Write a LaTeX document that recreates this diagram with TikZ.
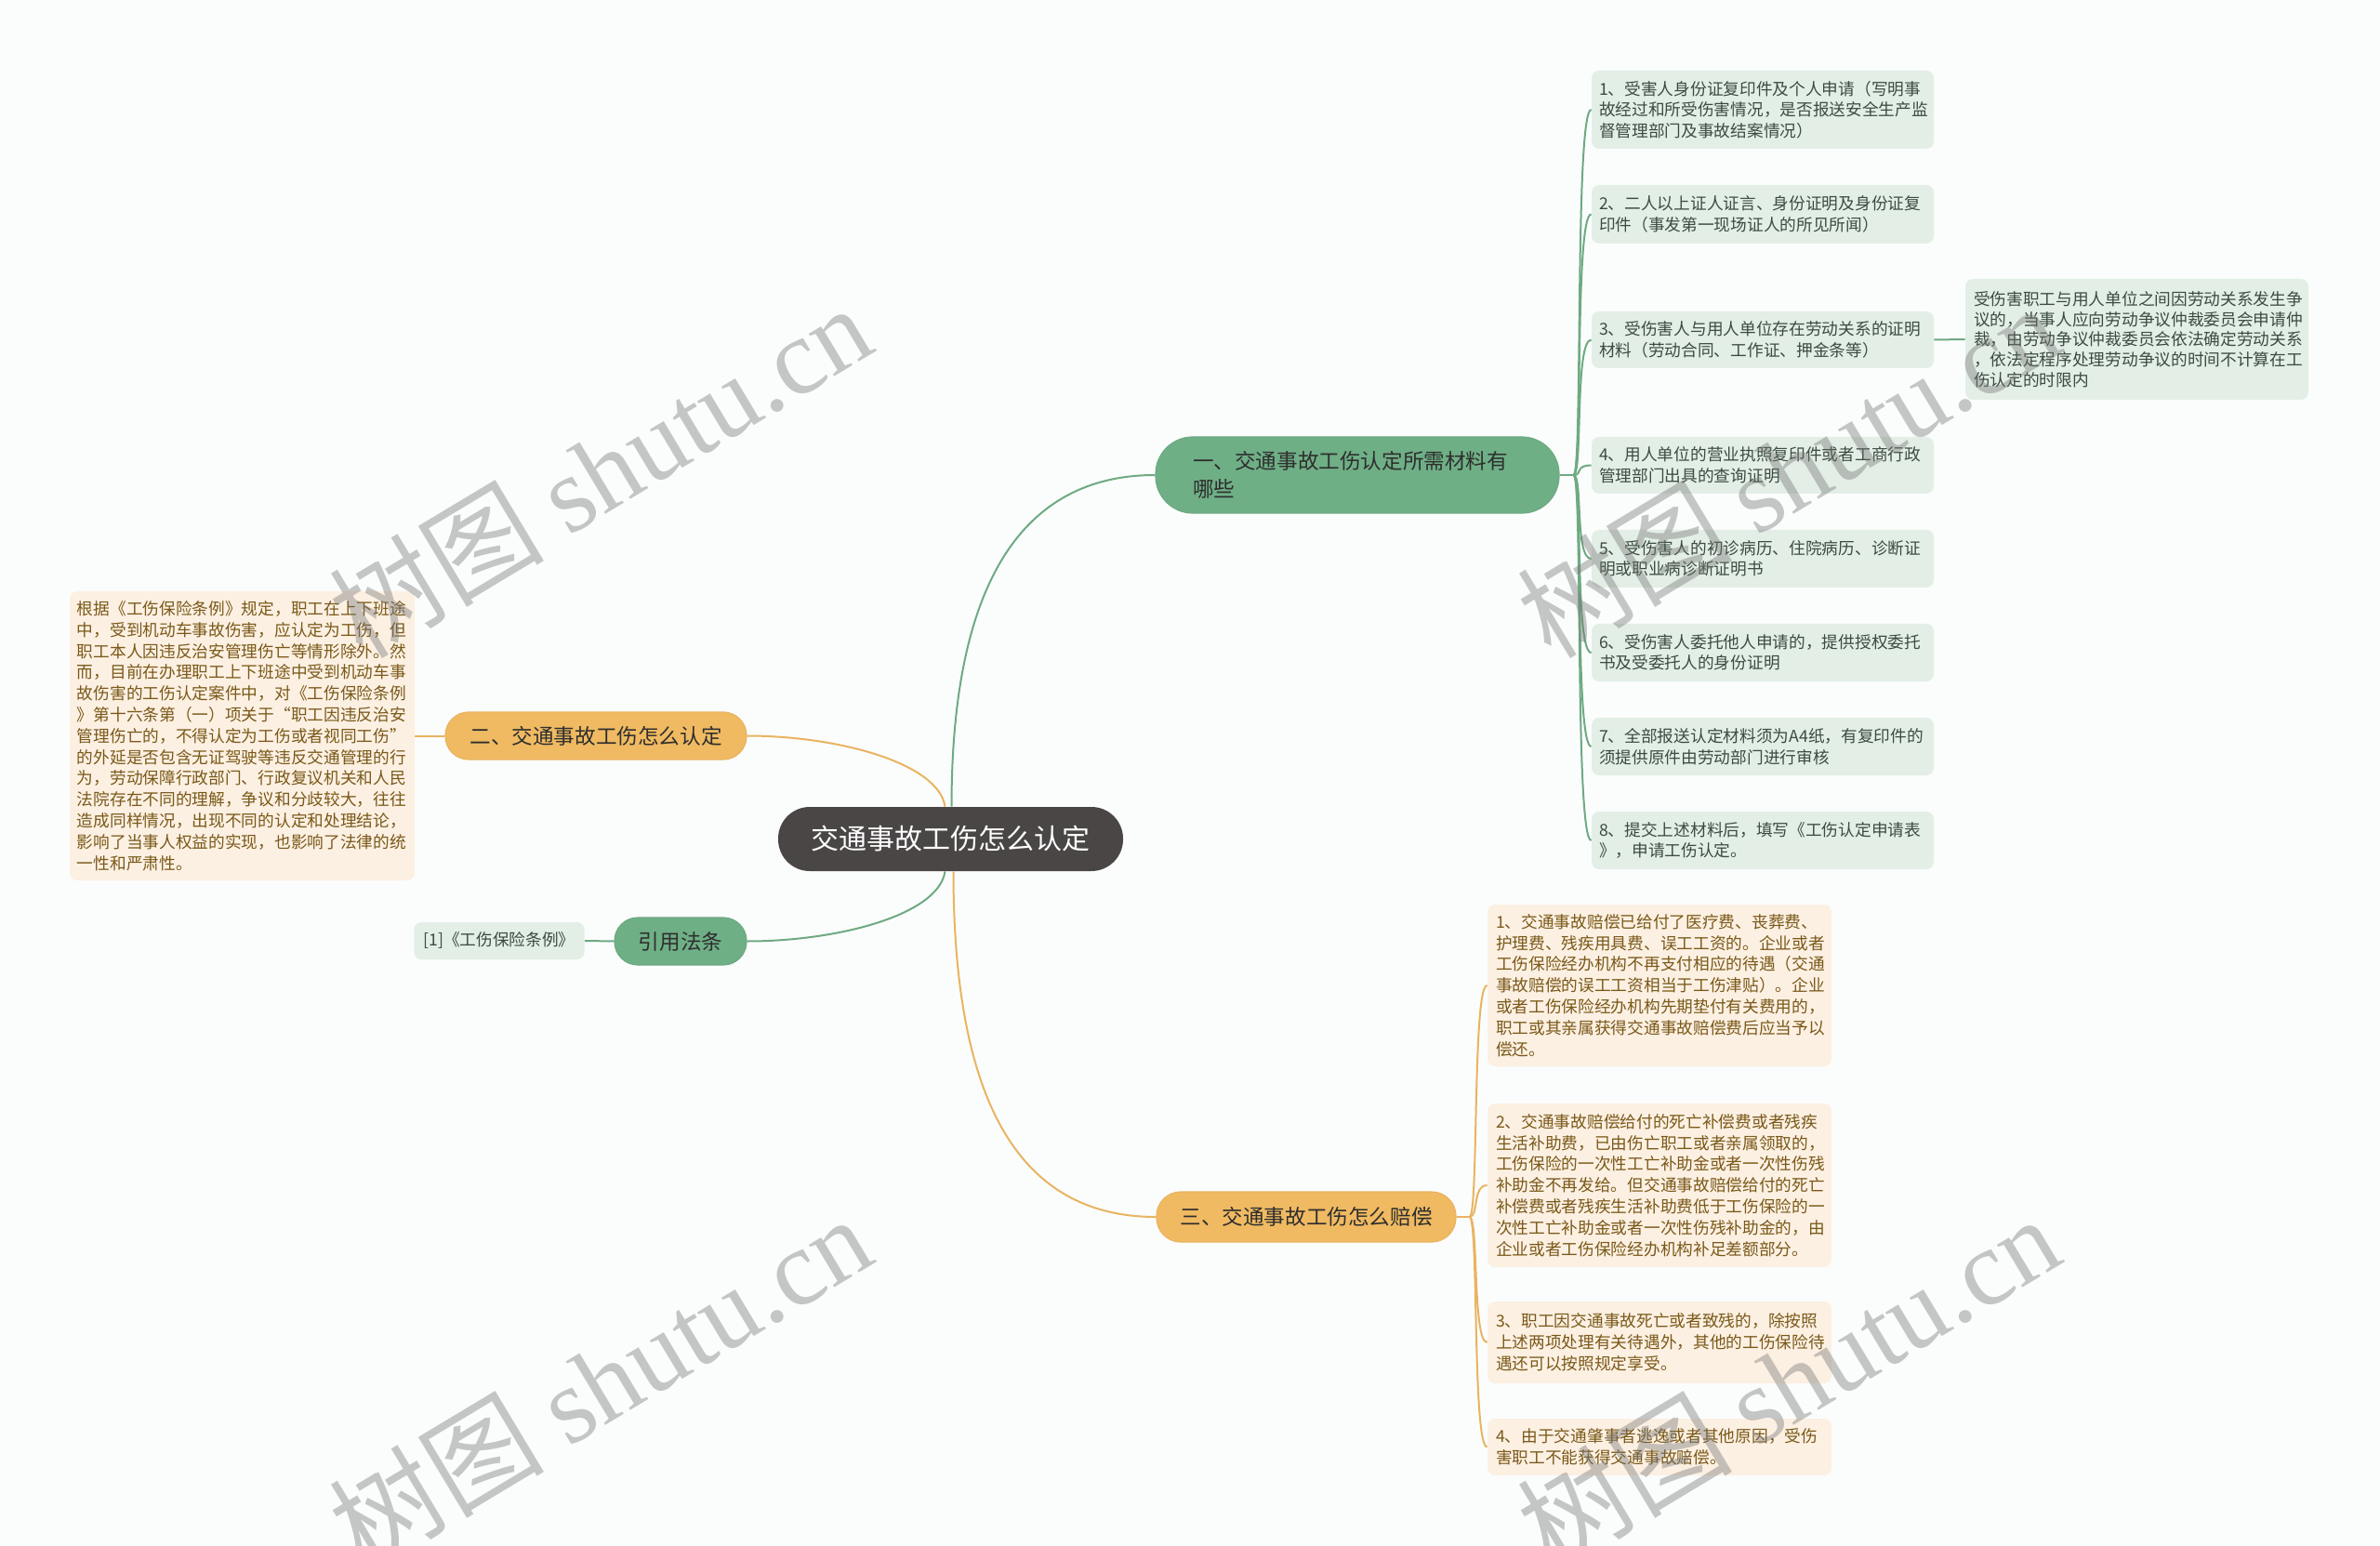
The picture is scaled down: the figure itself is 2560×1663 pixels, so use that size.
\documentclass[tikz,border=0pt]{standalone}
\usepackage{fontspec}
\setmainfont{Noto Sans CJK SC}
\newfontfamily\wmserif{Liberation Serif}
\definecolor{bg}{HTML}{FBFDFC}
\definecolor{rootfill}{HTML}{4A4646}
\definecolor{gfill}{HTML}{6FAF86}
\definecolor{gline}{HTML}{6EAA82}
\definecolor{gleaf}{HTML}{E3EFE6}
\definecolor{gtext}{HTML}{3C4B40}
\definecolor{ofill}{HTML}{F0BA62}
\definecolor{oline}{HTML}{E9B461}
\definecolor{oleaf}{HTML}{FCF0E3}
\definecolor{otext}{HTML}{7A5918}
\definecolor{dtext}{HTML}{2E2E2E}
\tikzset{
  leafbase/.style={inner ysep=0pt, rounded corners=4pt, align=left, anchor=center},
  gleafbox/.style={leafbase, fill=gleaf, text=gtext, inner xsep=4pt, text width=176pt,
    font=\fontsize{8.85}{11.25}\selectfont},
  oleafbox/.style={leafbase, fill=oleaf, text=otext, inner xsep=4.5pt, text width=176pt,
    font=\fontsize{8.85}{11.4}\selectfont},
  branchbox/.style={inner ysep=0pt, anchor=center, text=dtext, font=\fontsize{11.3}{15}\selectfont},
  gbranch/.style={branchbox, fill=gfill, draw=gline, line width=0.6pt},
  obranch/.style={branchbox, fill=ofill, draw=oline, line width=0.6pt},
  gconn/.style={draw=gline, line width=1pt},
  oconn/.style={draw=oline, line width=1pt},
  watermark/.style={rotate=31, text=black!55, opacity=0.4, anchor=center}
}
\begin{document}
\begin{tikzpicture}[x=0.5pt,y=-0.5pt]
\useasboundingbox (0,0) rectangle (2560,1663);
\fill[bg] (0,0) rectangle (2560,1663);

% root
\node[fill=rootfill, text=white, rounded corners=17pt, minimum width=185.5pt, minimum height=34.5pt,
  inner sep=0pt, font=\fontsize{15}{18}\selectfont] (root) at (1022.5,902.5) {交通事故工伤怎么认定};

% branches
\node[gbranch, rounded corners=20pt, minimum width=217pt, minimum height=41pt, text width=177pt,
  inner xsep=20pt, align=left] (b1) at (1460,511) {一、交通事故工伤认定所需材料有\\哪些};
\node[obranch, rounded corners=12.5pt, minimum width=162pt, minimum height=25.5pt] (b2) at (641,791.5) {二、交通事故工伤怎么认定};
\node[gbranch, rounded corners=12.5pt, minimum width=71pt, minimum height=25.5pt] (law) at (732,1012.5) {引用法条};
\node[obranch, rounded corners=13pt, minimum width=161pt, minimum height=27pt] (b3) at (1405,1309) {三、交通事故工伤怎么赔偿};

% green leaves
\node[gleafbox, minimum height=42pt] (g1) at (1896,118) {1、受害人身份证复印件及个人申请（写明事\\故经过和所受伤害情况，是否报送安全生产监\\督管理部门及事故结案情况）};
\node[gleafbox, minimum height=31.5pt] (g2) at (1896,230.5) {2、二人以上证人证言、身份证明及身份证复\\印件（事发第一现场证人的所见所闻）};
\node[gleafbox, minimum height=30.5pt] (g3) at (1896,365.5) {3、受伤害人与用人单位存在劳动关系的证明\\材料（劳动合同、工作证、押金条等）};
\node[gleafbox, minimum height=30.5pt] (g4) at (1896,500.5) {4、用人单位的营业执照复印件或者工商行政\\管理部门出具的查询证明};
\node[gleafbox, minimum height=31pt] (g5) at (1896,601) {5、受伤害人的初诊病历、住院病历、诊断证\\明或职业病诊断证明书};
\node[gleafbox, minimum height=31pt] (g6) at (1896,702) {6、受伤害人委托他人申请的，提供授权委托\\书及受委托人的身份证明};
\node[gleafbox, minimum height=31pt] (g7) at (1896,803) {7、全部报送认定材料须为A4纸，有复印件的\\须提供原件由劳动部门进行审核};
\node[gleafbox, minimum height=31pt] (g8) at (1896,904) {8、提交上述材料后，填写《工伤认定申请表\\》，申请工伤认定。};
\node[gleafbox, inner xsep=4.5pt, text width=175.5pt, minimum height=65pt, font=\fontsize{8.85}{10.85}\selectfont]
  (gx) at (2298.5,365) {受伤害职工与用人单位之间因劳动关系发生争\\议的，当事人应向劳动争议仲裁委员会申请仲\\裁，由劳动争议仲裁委员会依法确定劳动关系\\，依法定程序处理劳动争议的时间不计算在工\\伤认定的时限内};

% left box
\node[oleafbox, inner xsep=4pt, text width=177.5pt, minimum height=155.5pt] (lbox) at (260.5,791.5)
{根据《工伤保险条例》规定，职工在上下班途\\中，受到机动车事故伤害，应认定为工伤，但\\职工本人因违反治安管理伤亡等情形除外。然\\而，目前在办理职工上下班途中受到机动车事\\故伤害的工伤认定案件中，对《工伤保险条例\\》第十六条第（一）项关于“职工因违反治安\\管理伤亡的，不得认定为工伤或者视同工伤”\\的外延是否包含无证驾驶等违反交通管理的行\\为，劳动保障行政部门、行政复议机关和人民\\法院存在不同的理解，争议和分歧较大，往往\\造成同样情况，出现不同的认定和处理结论，\\影响了当事人权益的实现，也影响了法律的统\\一性和严肃性。};

% law leaf
\node[leafbase, fill=gleaf, text=gtext, inner xsep=5pt, minimum width=90pt, minimum height=20pt,
  font=\fontsize{8.85}{11}\selectfont] (lawleaf) at (537,1012) {[1]《工伤保险条例》};

% orange leaves
\node[oleafbox, minimum height=87pt] (o1) at (1785,1060) {1、交通事故赔偿已给付了医疗费、丧葬费、\\护理费、残疾用具费、误工工资的。企业或者\\工伤保险经办机构不再支付相应的待遇（交通\\事故赔偿的误工工资相当于工伤津贴）。企业\\或者工伤保险经办机构先期垫付有关费用的，\\职工或其亲属获得交通事故赔偿费后应当予以\\偿还。};
\node[oleafbox, minimum height=88pt] (o2) at (1785,1275) {2、交通事故赔偿给付的死亡补偿费或者残疾\\生活补助费，已由伤亡职工或者亲属领取的，\\工伤保险的一次性工亡补助金或者一次性伤残\\补助金不再发给。但交通事故赔偿给付的死亡\\补偿费或者残疾生活补助费低于工伤保险的一\\次性工亡补助金或者一次性伤残补助金的，由\\企业或者工伤保险经办机构补足差额部分。};
\node[oleafbox, minimum height=44pt] (o3) at (1785,1444) {3、职工因交通事故死亡或者致残的，除按照\\上述两项处理有关待遇外，其他的工伤保险待\\遇还可以按照规定享受。};
\node[oleafbox, minimum height=30.5pt] (o4) at (1785,1556.5) {4、由于交通肇事者逃逸或者其他原因，受伤\\害职工不能获得交通事故赔偿。};

% connectors root -> branches
\draw[gconn] ([xshift=0.5pt]root.north) .. controls +(0,-260) and +(-130,0) .. (b1.west);
\draw[oconn] ([xshift=-3pt]root.north) .. controls +(-7,-47) and +(97,0) .. (b2.east);
\draw[gconn] ([xshift=-3pt]root.south) .. controls +(-7,47) and +(97,0) .. (law.east);
\draw[oconn] ([xshift=1.5pt]root.south) .. controls +(0,260) and +(-140,0) .. (b3.west);

% branch 1 -> leaves
\draw[gconn] (b1.east) -- ++(15,0) coordinate (s1);
\foreach \n in {g1,g2,g3,g4,g5,g6,g7,g8}
  \draw[gconn] (s1) .. controls +(10,0) and +(-18,0) .. (\n.west);
\draw[gconn] (g3.east) -- (gx.west);

% branch 2 / law
\draw[oconn] (b2.west) -- (lbox.east);
\draw[gconn] (law.west) -- (lawleaf.east);

% branch 3 -> leaves
\draw[oconn] (b3.east) -- ++(14,0) coordinate (s3);
\foreach \n in {o1,o2,o3,o4}
  \draw[oconn] (s3) .. controls +(10,0) and +(-16,0) .. (\n.west);

% watermarks
\begin{scope}
\clip (0,0) rectangle (2560,1663);
\node[watermark, font=\fontsize{58}{60}\selectfont] (wm1) at (645,506) {树图 {\wmserif shutu.cn}};
\node[watermark, font=\fontsize{58}{60}\selectfont] (wm2) at (1923,506) {树图 {\wmserif shutu.cn}};
\node[watermark, font=\fontsize{58}{60}\selectfont] (wm3) at (645,1486) {树图 {\wmserif shutu.cn}};
\node[watermark, font=\fontsize{58}{60}\selectfont] (wm4) at (1923,1486) {树图 {\wmserif shutu.cn}};
\end{scope}
\end{tikzpicture}
\end{document}
